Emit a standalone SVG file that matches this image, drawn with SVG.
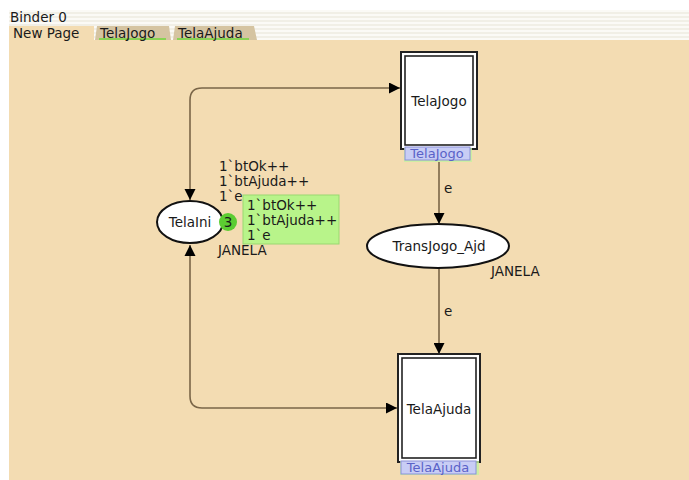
<svg xmlns="http://www.w3.org/2000/svg" width="689" height="480" viewBox="0 0 689 480">
  <defs>
    <style>
      .t { font-family: "DejaVu Sans", Verdana, sans-serif; font-size: 13.5px; fill: #1a1a1a; }
      .arc { fill: none; stroke: #7a6648; stroke-width: 1.6; }
      .place { fill: #ffffff; stroke: #111; stroke-width: 2; }
      .sub-out { fill: #ffffff; stroke: #222; stroke-width: 2; }
      .sub-in { fill: #ffffff; stroke: #222; stroke-width: 1.6; }
      .tag { fill: #c8cdf5; stroke: #8a90d8; stroke-width: 1; }
      .tagtxt { font-family: "DejaVu Sans", Verdana, sans-serif; font-size: 13px; fill: #5a62c8; }
    </style>
    <marker id="ah" viewBox="0 0 10 10" refX="10" refY="5" markerWidth="11" markerHeight="11" markerUnits="userSpaceOnUse" orient="auto">
      <path d="M0,0 L10,5 L0,10 z" fill="#000"/>
    </marker>
    <pattern id="stripes" width="4" height="4" patternUnits="userSpaceOnUse">
      <rect width="4" height="2" fill="#f1efe6"/>
      <rect y="2" width="4" height="2" fill="#fbfaf6"/>
    </pattern>
  </defs>

  <!-- window chrome -->
  <rect width="689" height="480" fill="#ffffff"/>
  <rect x="9" y="10" width="680" height="30" fill="url(#stripes)"/>
  <rect x="9" y="40" width="680" height="440" fill="#f3dcb2"/>
  <text class="t" x="10" y="22">Binder 0</text>

  <!-- page tabs -->
  <g id="tabs">
    <rect x="9" y="26" width="85" height="14" fill="#f3dcb2"/>
    <text class="t" x="13" y="38">New Page</text>
    <path d="M95,40 L97,26 L169,26 L171,40 z" fill="#d5c4a1"/>
    <line x1="99" y1="39" x2="166" y2="39" stroke="#6fd83a" stroke-width="1.5"/>
    <text class="t" x="100" y="38">TelaJogo</text>
    <path d="M173,40 L175,26 L254,26 L257,40 z" fill="#d5c4a1"/>
    <line x1="177" y1="39" x2="249" y2="39" stroke="#6fd83a" stroke-width="1.5"/>
    <text class="t" x="178" y="38">TelaAjuda</text>
  </g>

  <!-- arcs -->
  <g id="connectors">
    <path class="arc" d="M190,200 L190,100 Q190,88 202,88 L400,88" marker-end="url(#ah)"/>
    <path class="arc" d="M190,245 L190,396 Q190,408 202,408 L397,408" marker-end="url(#ah)"/>
    <path d="M184.5,189 L195.5,189 L190,200 z" fill="#000"/>
    <path d="M184.5,256 L195.5,256 L190,245 z" fill="#000"/>
    <path class="arc" d="M439,162 L439,224" marker-end="url(#ah)"/>
    <text class="t" x="444" y="193">e</text>
    <path class="arc" d="M439,268 L439,354" marker-end="url(#ah)"/>
    <text class="t" x="444" y="316">e</text>
  </g>

  <!-- place TelaIni -->
  <g id="TelaIni">
    <ellipse class="place" cx="190" cy="222" rx="33" ry="21"/>
    <text class="t" x="190" y="227" text-anchor="middle">TelaIni</text>
    <text class="t" x="219" y="171">1`btOk++</text>
    <text class="t" x="219" y="186">1`btAjuda++</text>
    <text class="t" x="219" y="201">1`e</text>
    <text class="t" x="218" y="255">JANELA</text>
    <rect x="243" y="195" width="96" height="49" fill="#b8f48a" stroke="#9ad870" stroke-width="1"/>
    <text class="t" x="247" y="210">1`btOk++</text>
    <text class="t" x="247" y="225">1`btAjuda++</text>
    <text class="t" x="247" y="240">1`e</text>
    <circle cx="228" cy="222" r="9" fill="#5ccc32"/>
    <text class="t" x="228" y="227" text-anchor="middle">3</text>
  </g>

  <!-- place TransJogo_Ajd -->
  <g id="TransJogo_Ajd">
    <ellipse class="place" cx="438" cy="246" rx="71" ry="22"/>
    <text class="t" x="439" y="251" text-anchor="middle">TransJogo_Ajd</text>
    <text class="t" x="491" y="276">JANELA</text>
  </g>

  <!-- substitution transition TelaJogo -->
  <g id="TelaJogo">
    <rect x="401" y="52" width="76" height="97" class="sub-out"/>
    <rect x="405" y="56" width="68" height="89" class="sub-in"/>
    <text class="t" x="439" y="106" text-anchor="middle">TelaJogo</text>
    <rect x="404" y="148" width="68" height="14" fill="#c6f29e" opacity="0.8"/>
    <rect x="405" y="147" width="65" height="13" class="tag"/>
    <text class="tagtxt" x="437" y="158" text-anchor="middle">TelaJogo</text>
  </g>

  <!-- substitution transition TelaAjuda -->
  <g id="TelaAjuda">
    <rect x="398" y="354" width="82" height="108" class="sub-out"/>
    <rect x="402" y="358" width="74" height="100" class="sub-in"/>
    <text class="t" x="439" y="414" text-anchor="middle">TelaAjuda</text>
    <rect x="400" y="461" width="79" height="14" fill="#c6f29e" opacity="0.8"/>
    <rect x="401" y="461" width="75" height="13" class="tag"/>
    <text class="tagtxt" x="438" y="472" text-anchor="middle">TelaAjuda</text>
  </g>
</svg>
